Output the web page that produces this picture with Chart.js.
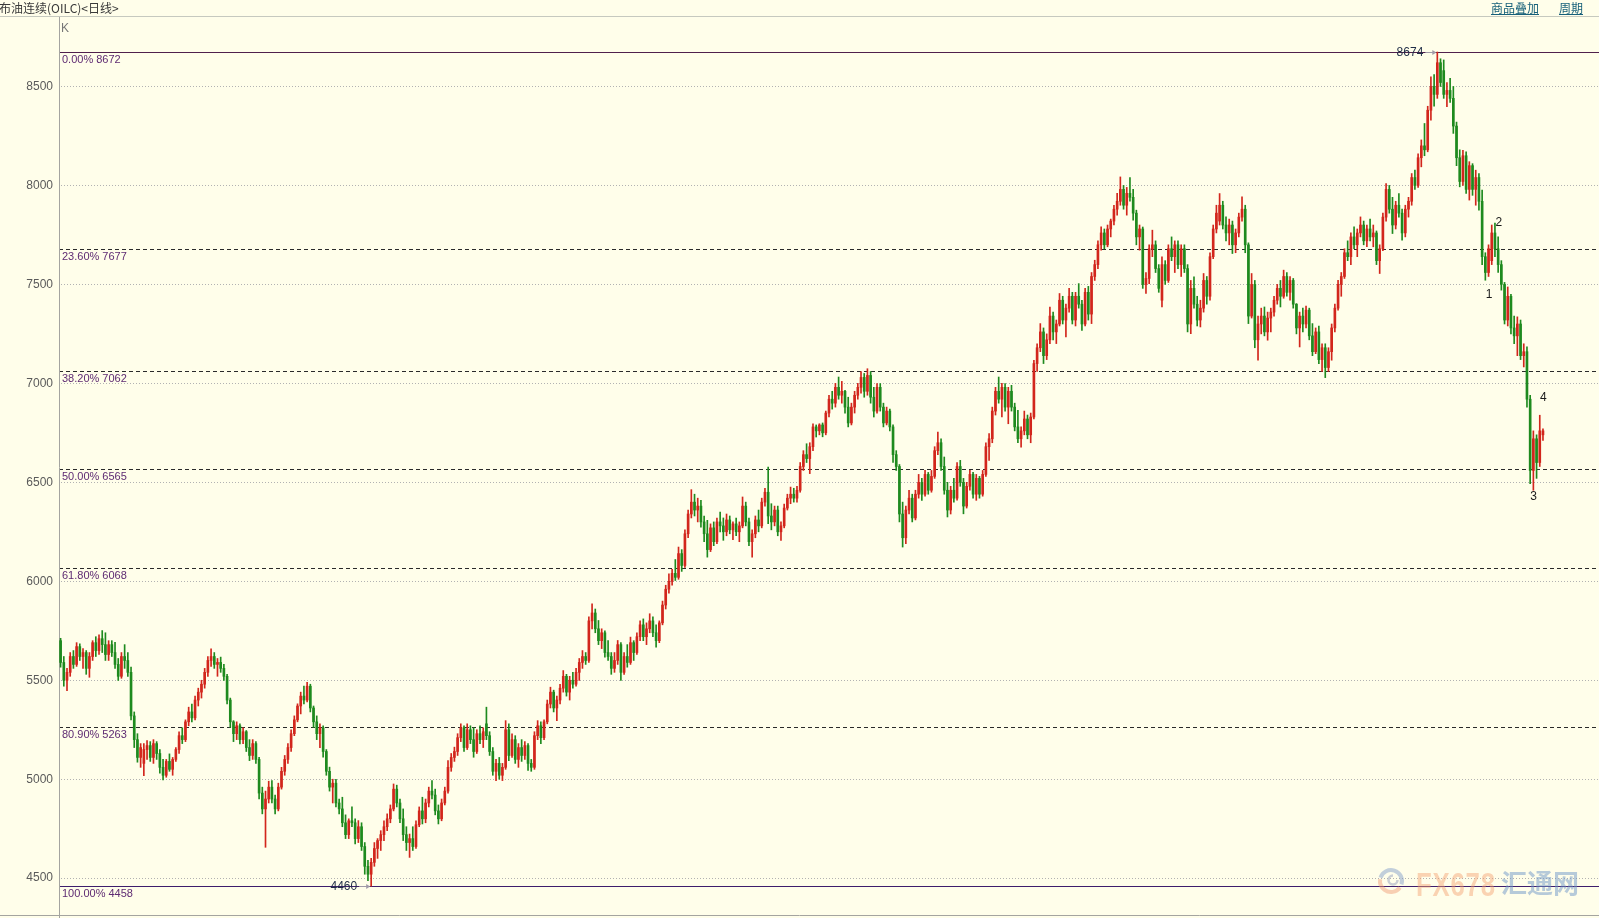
<!DOCTYPE html>
<html>
<head>
<meta charset="utf-8">
<title>布油连续(OILC)&lt;日线&gt;</title>
<script src="https://cdn.jsdelivr.net/npm/chart.js@4.4.0/dist/chart.umd.min.js"></script>
<style>
  html, body { margin: 0; padding: 0; background: #fffeea; overflow: hidden; }
  #wrap { position: relative; width: 1599px; height: 918px; }
  #myChart { position: absolute; left: 0; top: 0; }
  .hdr { position: absolute; left: 0; top: 0; width: 1599px; height: 16px; border-bottom: 1px solid #c6c9bf; }
  .title { position: absolute; left: -1px; top: 0; font: 12px "Noto Sans CJK SC", sans-serif; line-height: 16px; color: #3a3a3a; white-space: nowrap; }
  .link { position: absolute; top: 0; font: 12px "Noto Sans CJK SC", sans-serif; line-height: 15px; color: #17607a; text-decoration: underline; white-space: nowrap; }
  .k { position: absolute; left: 61px; top: 21px; font: 12px "Liberation Sans", sans-serif; color: #777; }
  .wm1 { position: absolute; left: 1416px; top: 866px; font: bold 33px "Liberation Sans", sans-serif; color: rgba(243, 160, 110, 0.45); transform: scaleX(0.78); transform-origin: left top; letter-spacing: 1px; }
  .wm2 { position: absolute; left: 1501px; top: 867px; font: bold 26px "Noto Sans CJK SC", sans-serif; color: rgba(110, 150, 200, 0.5); line-height: 30px; }
</style>
</head>
<body>
<div id="wrap">
  <canvas id="myChart" width="1599" height="918"></canvas>
  <div class="hdr"></div>
  <div class="title">布油连续(OILC)&lt;日线&gt;</div>
  <div class="link" style="left:1491px">商品叠加</div>
  <div class="link" style="left:1559px">周期</div>
  <div class="k">K</div>
  <div class="wm1">FX678</div>
  <div class="wm2">汇通网</div>
</div>
<script>
//daily candles: [open, high, low, close]
const febApr2017 = [
  [5700,5712,5566,5590],[5590,5620,5470,5500],[5500,5560,5448,5540],[5540,5640,5520,5620],[5620,5650,5560,5580],
  [5580,5690,5570,5670],[5670,5684,5600,5620],[5620,5660,5560,5640],[5640,5650,5530,5560],[5560,5640,5515,5620],
  [5620,5700,5600,5690],[5690,5720,5620,5650],[5650,5730,5630,5710],[5710,5751,5640,5680],[5680,5740,5600,5630],
  [5630,5700,5600,5680],[5680,5700,5620,5640],[5640,5692,5560,5580],[5580,5610,5499,5520],[5520,5640,5510,5620],
  [5620,5680,5560,5600],[5600,5640,5520,5540],[5540,5566,5300,5320],[5320,5340,5160,5200],[5200,5230,5086,5110],
  [5110,5180,5060,5160],[5080,5180,5018,5150],[5150,5195,5100,5170],[5170,5190,5090,5110],[5110,5200,5080,5180],
  [5180,5190,5100,5130],[5130,5150,5030,5060],[5060,5100,4996,5020],[5020,5100,5010,5090],[5090,5128,5040,5050],
  [5050,5110,5020,5100],[5100,5160,5090,5150],[5150,5240,5130,5220],[5220,5260,5180,5200],[5200,5300,5190,5290],
  [5290,5364,5270,5340],[5340,5380,5290,5310],[5310,5420,5300,5400],[5400,5460,5370,5440],[5440,5500,5410,5480],
  [5480,5560,5460,5540],[5540,5620,5520,5600],[5600,5659,5570,5620],[5620,5640,5560,5580]
];
const aprJun2017 = [
  [5580,5610,5520,5590],[5590,5617,5540,5560],[5560,5580,5499,5520],[5520,5530,5380,5400],[5400,5410,5262,5290],
  [5290,5296,5190,5230],[5230,5290,5200,5270],[5270,5280,5178,5200],[5200,5260,5180,5240],[5240,5246,5140,5160],
  [5160,5200,5094,5120],[5120,5200,5100,5180],[5180,5190,5080,5100],[5100,5110,4900,4930],[4930,4960,4825,4850],
  [4850,4940,4656,4900],[4900,4990,4880,4960],[4960,4993,4880,4900],[4900,4920,4825,4850],[4850,4980,4840,4960],
  [4960,5060,4950,5040],[5040,5120,5020,5100],[5100,5180,5080,5160],[5160,5250,5140,5230],[5230,5320,5220,5300],
  [5300,5381,5290,5370],[5370,5440,5330,5420],[5420,5470,5380,5400],[5400,5490,5390,5470],[5470,5480,5340,5360],
  [5360,5370,5262,5290],[5290,5320,5200,5230],[5230,5280,5160,5260],[5260,5270,5111,5140],[5140,5150,5020,5040],
  [5040,5061,4940,4960],[4960,5000,4880,4980],[4980,5000,4860,4880],[4880,4900,4825,4850],[4850,4909,4760,4780],
  [4780,4820,4700,4720],[4720,4800,4700,4790],[4790,4860,4760,4780],[4780,4800,4673,4700],[4700,4791,4680,4760],
  [4760,4780,4640,4660],[4660,4680,4520,4560],[4560,4590,4488,4520],[4520,4600,4460,4580]
];
const junSep2017 = [
  [4580,4680,4560,4650],[4650,4700,4600,4690],[4690,4740,4640,4720],[4720,4790,4690,4760],[4760,4825,4740,4800],
  [4800,4870,4780,4850],[4850,4976,4840,4950],[4950,4970,4860,4880],[4880,4900,4780,4800],[4800,4850,4690,4720],
  [4720,4760,4640,4680],[4680,4723,4605,4700],[4700,4760,4640,4660],[4660,4790,4650,4770],[4770,4860,4760,4840],
  [4840,4909,4774,4800],[4800,4900,4780,4880],[4880,4960,4860,4940],[4940,4993,4900,4920],[4920,4950,4820,4840],
  [4840,4870,4774,4800],[4800,4900,4790,4880],[4880,4960,4870,4940],[4940,5094,4930,5060],[5060,5130,5040,5110],
  [5110,5162,5090,5140],[5140,5230,5120,5210],[5210,5280,5190,5260],[5260,5270,5140,5160],[5160,5280,5150,5250],
  [5250,5270,5180,5200],[5200,5260,5111,5140],[5140,5250,5130,5230],[5230,5270,5180,5200],[5200,5260,5160,5240],
  [5280,5364,5200,5220],[5220,5240,5120,5140],[5140,5160,5020,5040],[5040,5100,4993,5080],[5080,5110,5000,5020],
  [5020,5080,4993,5060],[5060,5296,5050,5250],[5250,5280,5094,5120],[5120,5229,5110,5200],[5200,5220,5080,5100],
  [5100,5180,5060,5160],[5160,5200,5090,5120],[5120,5190,5100,5170],[5170,5180,5044,5080],[5080,5100,5040,5060],
  [5060,5240,5050,5220],[5220,5296,5200,5270],[5270,5290,5180,5210],[5210,5300,5200,5290],[5290,5400,5280,5380],
  [5380,5465,5360,5440],[5440,5450,5340,5360],[5360,5420,5296,5400],[5400,5480,5381,5460],[5460,5549,5440,5520],
  [5520,5530,5420,5440],[5440,5520,5400,5500],[5500,5540,5460,5480],[5480,5560,5470,5540],[5540,5610,5499,5590],
  [5590,5650,5560,5620],[5620,5640,5580,5600],[5600,5820,5590,5800]
];
const sepDec2017 = [
  [5800,5886,5760,5840],[5840,5860,5740,5760],[5760,5802,5680,5700],[5700,5760,5660,5740],[5740,5750,5617,5640],
  [5640,5700,5600,5620],[5620,5640,5530,5560],[5560,5640,5540,5600],[5600,5701,5580,5680],[5680,5690,5499,5540],
  [5540,5640,5530,5620],[5620,5680,5566,5590],[5590,5718,5580,5690],[5690,5700,5600,5640],[5640,5740,5630,5720],
  [5720,5800,5700,5780],[5780,5810,5700,5720],[5720,5790,5680,5760],[5760,5836,5740,5800],[5800,5820,5720,5740],
  [5740,5780,5667,5700],[5700,5800,5690,5790],[5790,5900,5780,5880],[5880,5980,5860,5960],[5960,6038,5940,6000],
  [6000,6060,5980,6040],[6040,6110,6004,6020],[6020,6173,6010,6140],[6140,6160,6050,6080],[6080,6260,6070,6240],
  [6240,6360,6220,6340],[6340,6463,6320,6400],[6400,6440,6330,6360],[6360,6420,6300,6380],[6380,6409,6274,6300],
  [6300,6330,6200,6240],[6240,6308,6122,6160],[6160,6290,6150,6270],[6270,6300,6180,6200],[6200,6320,6190,6300],
  [6300,6350,6250,6280],[6280,6320,6207,6250],[6250,6340,6230,6310],[6310,6330,6240,6260],[6260,6300,6210,6290],
  [6290,6320,6230,6250],[6250,6300,6200,6280],[6280,6426,6270,6380],[6380,6400,6280,6300],[6300,6320,6180,6200],
  [6200,6260,6122,6240],[6240,6330,6220,6310],[6310,6360,6250,6280],[6280,6420,6270,6400],[6400,6470,6380,6450],
  [6450,6577,6291,6330],[6330,6392,6260,6300],[6300,6380,6280,6360],[6360,6380,6230,6250],[6250,6300,6207,6280],
  [6280,6390,6270,6370],[6370,6440,6360,6420],[6420,6476,6392,6440],[6440,6470,6400,6420],[6420,6480,6400,6460],
  [6460,6600,6450,6580],[6580,6660,6560,6640],[6640,6695,6600,6620],[6620,6700,6544,6680]
];
const janApr2018 = [
  [6680,6796,6660,6780],[6780,6790,6729,6760],[6760,6796,6740,6790],[6790,6800,6730,6750],[6750,6860,6740,6850],
  [6850,6940,6830,6920],[6920,6960,6870,6900],[6900,7000,6880,6980],[6980,7032,6920,6940],[6940,7010,6900,6960],
  [6960,6965,6850,6880],[6880,6930,6780,6800],[6800,6900,6790,6880],[6880,6960,6850,6940],[6940,7000,6920,6980],
  [6980,7060,6950,7030],[7030,7050,6930,6960],[6960,7074,6940,7040],[7040,7060,6900,6930],[6930,6980,6830,6860],
  [6860,6999,6850,6980],[6980,6999,6860,6880],[6880,6900,6780,6800],[6800,6880,6790,6860],[6860,6870,6760,6780],
  [6780,6790,6600,6640],[6640,6660,6560,6580],[6580,6590,6300,6340],[6340,6400,6173,6220],[6220,6380,6190,6360],
  [6360,6459,6340,6420],[6420,6440,6300,6320],[6320,6460,6310,6440],[6440,6540,6420,6500],[6500,6520,6409,6440],
  [6440,6560,6430,6540],[6540,6550,6440,6460],[6460,6560,6450,6530],[6530,6680,6520,6660],[6660,6754,6640,6700],
  [6700,6720,6560,6580],[6580,6628,6440,6460],[6460,6500,6325,6360],[6360,6480,6340,6460],[6460,6520,6400,6420],
  [6420,6600,6410,6580],[6580,6611,6480,6500],[6500,6520,6341,6380],[6380,6500,6370,6480],[6480,6560,6460,6540],
  [6540,6550,6420,6440],[6440,6540,6409,6520],[6520,6530,6420,6440],[6440,6560,6430,6540],[6540,6700,6530,6680],
  [6680,6746,6611,6720],[6720,6880,6700,6860],[6860,6980,6840,6960],[6960,7032,6900,6920],[6920,7000,6830,6980],
  [6980,6999,6860,6880],[6880,6980,6796,6960],[6960,6990,6860,6880],[6880,6900,6760,6780],[6780,6864,6700,6720],
  [6720,6780,6678,6760],[6760,6860,6740,6820],[6820,6840,6720,6740],[6740,6850,6700,6830]
];
const aprJul2018 = [
  [6830,7116,6820,7100],[7100,7200,7060,7180],[7180,7302,7160,7260],[7260,7280,7100,7140],[7140,7250,7120,7220],
  [7220,7386,7200,7340],[7340,7360,7220,7260],[7260,7320,7201,7300],[7300,7454,7290,7420],[7420,7440,7300,7320],
  [7320,7400,7235,7380],[7380,7480,7360,7440],[7440,7460,7300,7320],[7320,7460,7290,7440],[7440,7504,7380,7400],
  [7400,7420,7268,7300],[7300,7480,7290,7460],[7460,7490,7320,7350],[7350,7560,7302,7540],[7540,7622,7520,7600],
  [7600,7720,7580,7700],[7700,7791,7673,7760],[7760,7780,7680,7700],[7700,7800,7690,7780],[7780,7830,7740,7820],
  [7820,7900,7800,7880],[7880,7960,7850,7920],[7920,8043,7900,7980],[7980,8000,7880,7900],[7900,7990,7850,7960],
  [7960,8040,7920,7940],[7940,7980,7824,7860],[7860,7875,7700,7740],[7740,7800,7673,7780],[7780,7790,7480,7500],
  [7500,7560,7454,7530],[7530,7700,7504,7680],[7680,7774,7640,7700],[7700,7720,7560,7580],[7580,7600,7460,7480],
  [7420,7639,7386,7600],[7600,7620,7500,7520],[7520,7700,7510,7680],[7680,7740,7620,7640],[7640,7720,7560,7700],
  [7700,7720,7580,7600],[7600,7700,7540,7680],[7680,7700,7560,7580],[7580,7600,7260,7300],[7300,7520,7251,7480],
  [7480,7538,7380,7400],[7400,7440,7290,7320],[7320,7420,7285,7380],[7380,7555,7360,7520],[7520,7540,7400,7440],
  [7440,7660,7420,7640],[7640,7800,7630,7780],[7780,7900,7760,7860],[7820,7959,7800,7900],[7900,7920,7780,7800],
  [7800,7841,7720,7760],[7760,7830,7700,7800],[7800,7820,7656,7700],[7700,7780,7660,7760],[7760,7860,7740,7840],
  [7840,7943,7820,7880],[7880,7900,7660,7700],[7700,7710,7302,7340]
];
const julNov2018 = [
  [7340,7555,7330,7500],[7500,7520,7180,7220],[7220,7340,7117,7300],[7300,7380,7250,7340],[7340,7386,7240,7260],
  [7260,7360,7218,7330],[7330,7380,7260,7360],[7360,7440,7340,7420],[7420,7500,7400,7480],[7480,7520,7386,7440],
  [7440,7572,7430,7540],[7540,7560,7440,7460],[7460,7540,7420,7520],[7520,7530,7380,7400],[7400,7403,7250,7280],
  [7280,7360,7184,7340],[7340,7380,7260,7300],[7300,7390,7280,7370],[7370,7380,7220,7240],[7240,7302,7140,7160],
  [7160,7280,7150,7260],[7260,7290,7100,7120],[7120,7200,7060,7180],[7180,7200,7029,7080],[7080,7180,7060,7160],
  [7160,7300,7117,7280],[7280,7400,7260,7380],[7380,7521,7370,7500],[7500,7560,7440,7540],[7540,7680,7530,7660],
  [7660,7720,7620,7640],[7640,7760,7600,7740],[7740,7791,7680,7700],[7700,7780,7640,7760],[7760,7841,7740,7800],
  [7800,7820,7700,7720],[7720,7800,7690,7780],[7780,7830,7720,7740],[7740,7800,7690,7760],[7760,7770,7600,7620],
  [7620,7700,7555,7680],[7680,7860,7670,7840],[7840,8010,7820,7980],[7980,8000,7860,7880],[7880,7940,7757,7800],
  [7800,7920,7780,7900],[7900,7959,7840,7860],[7860,7880,7723,7760],[7760,7900,7740,7880],[7880,7940,7840,7920],
  [7920,8060,7900,8040],[8040,8077,7980,8000],[8000,8160,7990,8140],[8140,8230,8094,8200],[8200,8313,8150,8180],
  [8180,8400,8170,8380],[8380,8549,8330,8500],[8500,8560,8400,8460],[8460,8674,8440,8620],[8620,8640,8500,8520],
  [8580,8634,8440,8460],[8460,8520,8398,8480],[8480,8541,8420,8440],[8440,8500,8263,8300],[8300,8320,8100,8140],
  [8140,8180,7993,8020],[8020,8178,8000,8150],[8150,8170,7960,7980],[7980,8120,7926,8100],[8100,8110,7950,7980],
  [7980,8077,7900,8040],[8040,8060,7875,7920],[7920,7976,7600,7640],[7640,7660,7521,7560],[7560,7700,7540,7680],
  [7620,7800,7600,7760],[7760,7810,7640,7680],[7680,7740,7560,7600],[7600,7620,7471,7500],[7500,7510,7300,7320],
  [7320,7487,7290,7440],[7440,7450,7250,7280],[7280,7340,7200,7240],[7240,7336,7140,7300],[7300,7320,7120,7140],
  [7140,7200,7083,7160],[7160,7184,6880,6920],[6920,6940,6493,6560],[6560,6760,6460,6720],[6720,6740,6520,6600],
  [6600,6839,6580,6760],[6740,6770,6712,6760]
];

//fibonacci retracement levels drawn on the chart
const fibLabels = ['0.00%', '23.60%', '38.20%', '50.00%', '61.80%', '80.90%', '100.00%'];
const fibValues = [8672, 7677, 7062, 6565, 6068, 5263, 4458];

//y axis tick labels
const yTicks = [4500, 5000, 5500, 6000, 6500, 7000, 7500, 8000, 8500];

//wave count labels: [text, candle index, price]
const waveLabels = [['1', 446.2, 7450], ['2', 449.2, 7810], ['3', 460.1, 6425], ['4', 463.1, 6930]];

const candles = [].concat(febApr2017, aprJun2017, junSep2017, sepDec2017, janApr2018, aprJul2018, julNov2018);

//one slot per trading day, the chart leaves room for 17 more on the right
const slotCount = 481;
const slots = Array.from({length: slotCount}, (_, i) => String(i));

const upColor = '#d2261c';
const downColor = '#1e8a1e';
const colors = candles.map(c => c[3] >= c[0] ? upColor : downColor);

//dotted grid, fib lines and the text that sits on the chart
const overlay = {
  id: 'overlay',
  beforeDatasetsDraw(chart) {
    const {ctx, chartArea, scales: {x, y}} = chart;
    ctx.save();
    ctx.lineWidth = 1;
    ctx.strokeStyle = '#b2b2b2';
    ctx.setLineDash([1, 2]);
    yTicks.forEach(v => {
      const py = Math.round(y.getPixelForValue(v)) + 0.5;
      ctx.beginPath();
      ctx.moveTo(chartArea.left + 2, py);
      ctx.lineTo(chartArea.right, py);
      ctx.stroke();
    });
    fibValues.forEach((v, k) => {
      const py = Math.round(y.getPixelForValue(v)) + 0.5;
      const solid = k === 0 || k === fibValues.length - 1;
      ctx.setLineDash(solid ? [] : [4, 3]);
      ctx.strokeStyle = solid ? (k === 0 ? '#50204c' : '#3e1e6c') : '#2a2a2a';
      ctx.beginPath();
      ctx.moveTo(chartArea.left, py);
      ctx.lineTo(chartArea.right, py);
      ctx.stroke();
    });
    //axis and frame lines
    ctx.setLineDash([]);
    ctx.strokeStyle = '#a4a4a0';
    ctx.beginPath();
    ctx.moveTo(chartArea.left + 0.5, chartArea.top);
    ctx.lineTo(chartArea.left + 0.5, chart.height);
    ctx.moveTo(0, chartArea.bottom + 0.5);
    ctx.lineTo(chart.width, chartArea.bottom + 0.5);
    ctx.stroke();
    ctx.restore();
  },
  afterDatasetsDraw(chart) {
    const {ctx, chartArea, scales: {x, y}} = chart;
    ctx.save();
    ctx.font = '11px "Liberation Sans", sans-serif';
    ctx.fillStyle = '#5e2a72';
    ctx.textBaseline = 'alphabetic';
    fibValues.forEach((v, k) => {
      const py = Math.round(y.getPixelForValue(v));
      ctx.fillText(fibLabels[k] + ' ' + v, chartArea.left + 3, py + 11);
    });

    //high and low markers with arrows
    const highs = candles.map(c => c[1]);
    const lows = candles.map(c => c[2]);
    const hi = Math.max(...highs);
    const lo = Math.min(...lows);
    [[highs.indexOf(hi), hi], [lows.indexOf(lo), lo]].forEach(([i, v]) => {
      const px = x.getPixelForValue(i);
      const py = Math.round(y.getPixelForValue(v)) + 0.5;
      ctx.strokeStyle = '#a09aa8';
      ctx.fillStyle = '#a09aa8';
      ctx.beginPath();
      ctx.moveTo(px - 12, py);
      ctx.lineTo(px - 3, py);
      ctx.stroke();
      ctx.beginPath();
      ctx.moveTo(px - 1, py);
      ctx.lineTo(px - 5, py - 2.5);
      ctx.lineTo(px - 5, py + 2.5);
      ctx.fill();
      ctx.font = '12px "Liberation Sans", sans-serif';
      ctx.fillStyle = '#1e2c46';
      ctx.textAlign = 'right';
      ctx.textBaseline = 'middle';
      ctx.fillText(String(v), px - 14, py);
    });

    //wave numbers
    ctx.font = '12px "Liberation Sans", sans-serif';
    ctx.fillStyle = '#1a1a1a';
    ctx.textAlign = 'center';
    ctx.textBaseline = 'middle';
    waveLabels.forEach(([t, i, v]) => {
      ctx.fillText(t, x.getPixelForValue(i), y.getPixelForValue(v));
    });

    //watermark logo
    ctx.lineWidth = 4;
    ctx.strokeStyle = 'rgba(120,150,200,0.45)';
    ctx.beginPath();
    ctx.arc(1391, 881, 11, Math.PI * 1.1, Math.PI * 2.1);
    ctx.stroke();
    ctx.strokeStyle = 'rgba(240,150,110,0.45)';
    ctx.beginPath();
    ctx.arc(1391, 881, 11, Math.PI * 0.2, Math.PI * 1.05);
    ctx.stroke();
    ctx.lineWidth = 2.5;
    ctx.strokeStyle = 'rgba(150,160,190,0.5)';
    ctx.beginPath();
    ctx.arc(1393, 880, 4.5, 0, Math.PI * 1.5);
    ctx.stroke();
    ctx.restore();
  }
};

const ctx = document.getElementById('myChart');

new Chart(ctx, {
  type: 'bar',
  data: {
    labels: slots,
    datasets: [{
      label: 'body',
      data: candles.map(c => [c[0], c[3]]),
      backgroundColor: colors,
      borderWidth: 0,
      barThickness: 2,
      minBarLength: 1,
      grouped: false
    }, {
      label: 'wick',
      data: candles.map(c => [c[2], c[1]]),
      backgroundColor: colors,
      borderWidth: 0,
      barThickness: 1,
      grouped: false
    }]
  },
  options: {
    responsive: false,
    animation: false,
    events: [],
    layout: {padding: {top: 17, bottom: 3, left: 0, right: 0}},
    plugins: {legend: {display: false}, tooltip: {enabled: false}},
    scales: {
      x: {type: 'category', offset: true, display: false},
      y: {
        min: 4314,
        max: 8851,
        grid: {display: false, drawTicks: false},
        border: {display: false},
        ticks: {
          padding: 6,
          color: '#5a5a5a',
          font: {family: '"Liberation Sans", sans-serif', size: 12},
          callback: v => String(v)
        },
        afterBuildTicks: scale => { scale.ticks = yTicks.map(v => ({value: v})); },
        afterFit: scale => { scale.width = 59; scale.paddingTop = 0; scale.paddingBottom = 0; }
      }
    }
  },
  plugins: [overlay]
});
</script>
</body>
</html>
